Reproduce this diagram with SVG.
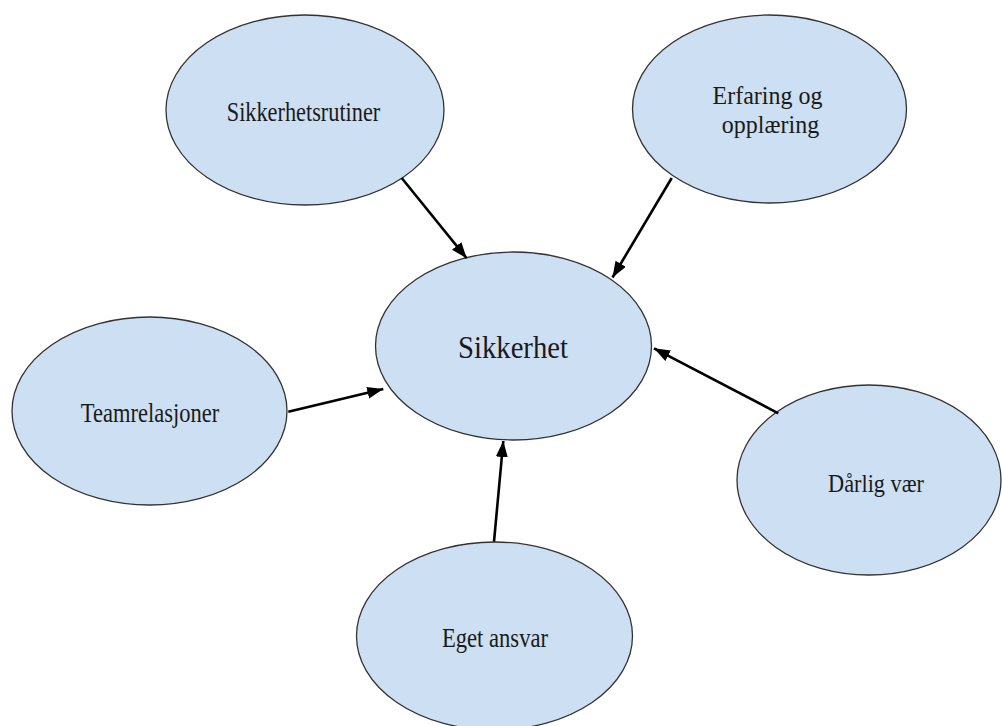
<svg xmlns="http://www.w3.org/2000/svg" width="1002" height="726" viewBox="0 0 1002 726">
<style>
.node ellipse{fill:#cddff2;stroke:#333;stroke-width:1.3}
.node text{font-family:"Liberation Serif","Times New Roman",serif;fill:#1a1a1a;text-anchor:middle}
.conn line{stroke:#000;stroke-width:2.6;marker-end:url(#ah)}
</style>
<defs>
<marker id="ah" markerUnits="userSpaceOnUse" markerWidth="18" markerHeight="14" refX="16" refY="6" orient="auto">
<path d="M0,0 L16,6 L0,12 z" fill="#000"/>
</marker>
</defs>
<rect width="1002" height="726" fill="#fff"/>
<g id="n-sikkerhetsrutiner" class="node">
<ellipse cx="305" cy="110" rx="139" ry="95"/>
<text transform="translate(303.5,121) scale(1,1.25)" font-size="22.3">Sikkerhetsrutiner</text>
</g>
<g id="n-erfaring" class="node">
<ellipse cx="769.5" cy="109" rx="137" ry="94"/>
<text transform="translate(767.5,104) scale(1,1.08)" font-size="24">Erfaring og</text>
<text transform="translate(770.5,133) scale(1,1.08)" font-size="24">opplæring</text>
</g>
<g id="n-sikkerhet" class="node">
<ellipse cx="513.5" cy="346" rx="138" ry="94"/>
<text transform="translate(513,358) scale(1,1.12)" font-size="28.7">Sikkerhet</text>
</g>
<g id="n-teamrelasjoner" class="node">
<ellipse cx="149.5" cy="411" rx="137.5" ry="94"/>
<text transform="translate(150,422) scale(1,1.25)" font-size="22.5">Teamrelasjoner</text>
</g>
<g id="n-darlig" class="node">
<ellipse cx="869" cy="480" rx="132" ry="95"/>
<text transform="translate(876,492) scale(1,1.15)" font-size="22.3">Dårlig vær</text>
</g>
<g id="n-eget" class="node">
<ellipse cx="494.5" cy="636" rx="138" ry="94"/>
<text transform="translate(495,647) scale(1,1.17)" font-size="22.6">Eget ansvar</text>
</g>
<g id="connectors" class="conn">
<line x1="401.7" y1="178" x2="466.7" y2="258.3"/>
<line x1="671.7" y1="178" x2="612.5" y2="277.5"/>
<line x1="288.3" y1="411.7" x2="383.3" y2="389"/>
<line x1="778.3" y1="413.3" x2="654" y2="348.3"/>
<line x1="494" y1="541.7" x2="503.3" y2="441"/>
</g>
</svg>
